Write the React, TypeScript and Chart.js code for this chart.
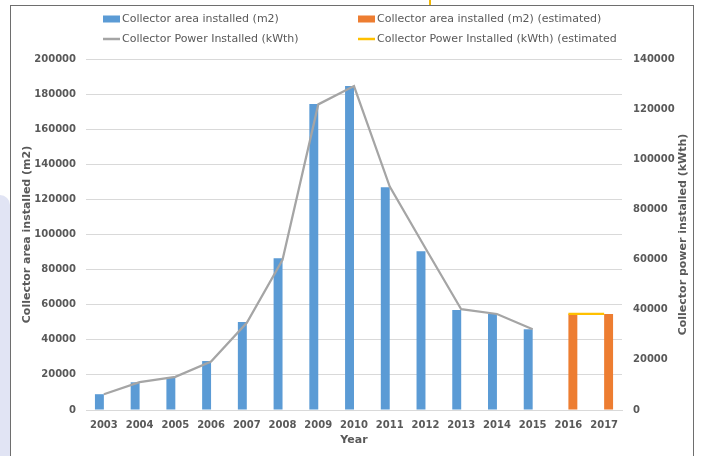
import React, { useEffect, useRef } from "react";
import { Chart, registerables } from "chart.js";

Chart.register(...registerables);

const years = ["2003", "2004", "2005", "2006", "2007", "2008", "2009", "2010", "2011", "2012", "2013", "2014", "2015", "2016", "2017"];
const areaInstalled = [9000, 15800, 18800, 27900, 50100, 86400, 174400, 184600, 126900, 90400, 57000, 54700, 46000, null, null];
const areaEstimated = [null, null, null, null, null, null, null, null, null, null, null, null, null, 54700, 54700];
const powerInstalled = [6300, 11100, 13200, 19300, 34800, 59900, 121900, 129200, 89100, 64500, 40200, 38300, 32200, null, null];
const powerEstimated = [null, null, null, null, null, null, null, null, null, null, null, null, null, 38300, 38300];

const leftMax = 200000;
const rightMax = 140000;
const tickStep = 20000;

const labelArea = "Collector area installed (m2)";
const labelAreaEst = "Collector area installed (m2) (estimated)";
const labelPower = "Collector Power Installed (kWth)";
const labelPowerEst = "Collector Power Installed (kWth) (estimated";
const rightTitle = "Collector power installed (kWth)";

const FONT = "'DejaVu Sans', sans-serif";
const TEXT = "#595959";

const legendPlugin = {
  id: "gridLegend",
  afterDraw(chart: any) {
    const ctx = chart.ctx;
    const cols = [103, 358];
    const rows = [19, 39];
    const items = [0, 1, 2, 3];
    ctx.save();
    ctx.font = `11px ${FONT}`;
    ctx.textBaseline = "middle";
    items.forEach((i) => {
      const ds = chart.data.datasets[i];
      const x = cols[i % 2];
      const y = rows[Math.floor(i / 2)];
      if (ds.type === "line") {
        ctx.strokeStyle = ds.borderColor;
        ctx.lineWidth = 2.5;
        ctx.beginPath();
        ctx.moveTo(x, y);
        ctx.lineTo(x + 17, y);
        ctx.stroke();
      } else {
        ctx.fillStyle = ds.backgroundColor;
        ctx.fillRect(x, y - 3.5, 17, 7);
      }
      ctx.fillStyle = TEXT;
      ctx.fillText(ds.label, x + 19, y + 0.5);
    });
    // right axis title, reading bottom-to-top
    const area = chart.chartArea;
    ctx.translate(683, (area.top + area.bottom) / 2);
    ctx.rotate(-Math.PI / 2);
    ctx.font = `bold 11px ${FONT}`;
    ctx.fillStyle = TEXT;
    ctx.textAlign = "center";
    ctx.textBaseline = "middle";
    ctx.fillText(rightTitle, 0, 0);
    ctx.restore();
  },
};

export default function App() {
  const ref = useRef<HTMLCanvasElement | null>(null);

  useEffect(() => {
    document.body.style.margin = "0";
    const canvas = ref.current;
    if (!canvas) return;
    const chart = new Chart(canvas, {
      type: "bar",
      data: {
        labels: years,
        datasets: [
          {
            type: "bar",
            label: labelArea,
            data: areaInstalled,
            backgroundColor: "#5B9BD5",
            yAxisID: "y",
            order: 2,
            categoryPercentage: 0.5,
            barPercentage: 1,
          },
          {
            type: "bar",
            label: labelAreaEst,
            data: areaEstimated,
            backgroundColor: "#ED7D31",
            yAxisID: "y",
            order: 2,
            categoryPercentage: 0.5,
            barPercentage: 1,
          },
          {
            type: "line",
            label: labelPower,
            data: powerInstalled,
            borderColor: "#A5A5A5",
            backgroundColor: "#A5A5A5",
            borderWidth: 2.25,
            pointRadius: 0,
            yAxisID: "y1",
            order: 1,
            spanGaps: false,
          },
          {
            type: "line",
            label: labelPowerEst,
            data: powerEstimated,
            borderColor: "#FFC000",
            backgroundColor: "#FFC000",
            borderWidth: 2.25,
            pointRadius: 0,
            yAxisID: "y1",
            order: 0,
          },
        ],
      } as any,
      options: {
        responsive: false,
        animation: false,
        layout: { padding: { left: 10, top: 59, right: 0, bottom: 0 } },
        plugins: {
          legend: { display: false },
          tooltip: { enabled: false },
        },
        scales: {
          x: {
            grid: { display: false, drawTicks: false },
            border: { display: true, color: "#D9D9D9" },
            ticks: { color: TEXT, font: { family: FONT, size: 10, weight: "bold" }, padding: 9, maxRotation: 0 },
            title: {
              display: true,
              text: "Year",
              color: TEXT,
              font: { family: FONT, size: 11, weight: "bold" },
              padding: { top: 0, bottom: 9 },
            },
            afterFit: (s: any) => {
              s.height = 46;
            },
          },
          y: {
            position: "left",
            min: 0,
            max: leftMax,
            grid: { color: "#D9D9D9", drawTicks: false },
            border: { display: false },
            ticks: {
              stepSize: tickStep,
              color: TEXT,
              font: { family: FONT, size: 10, weight: "bold" },
              padding: 10,
              callback: (v: any) => String(v),
            },
            title: {
              display: true,
              text: labelArea,
              color: TEXT,
              font: { family: FONT, size: 11, weight: "bold" },
              padding: { top: 11, bottom: 0 },
            },
            afterFit: (s: any) => {
              s.width = 76;
            },
          },
          y1: {
            position: "right",
            min: 0,
            max: rightMax,
            grid: { display: false, drawTicks: false },
            border: { display: false },
            ticks: {
              stepSize: tickStep,
              color: TEXT,
              font: { family: FONT, size: 10, weight: "bold" },
              padding: 11,
              callback: (v: any) => String(v),
            },
            title: { display: false },
            afterFit: (s: any) => {
              s.width = 80;
            },
          },
        },
      } as any,
      plugins: [legendPlugin],
    });
    return () => chart.destroy();
  }, []);

  return (
    <div style={{ position: "relative", width: 702, height: 456, overflow: "hidden", background: "#FFFFFF" }}>
      <div
        style={{
          position: "absolute",
          left: 0,
          top: 195,
          width: 10,
          height: 270,
          background: "#E1E4F4",
          borderTopRightRadius: 14,
        }}
      />
      <div
        style={{
          position: "absolute",
          left: 429,
          top: 0,
          width: 2,
          height: 6,
          background: "#F2B705",
        }}
      />
      <div
        style={{
          position: "absolute",
          left: 10,
          top: 5,
          width: 682,
          height: 470,
          border: "1px solid #6E6E6E",
          background: "#FFFFFF",
        }}
      />
      <canvas ref={ref} width={702} height={456} style={{ position: "absolute", left: 0, top: 0, display: "block" }} />
    </div>
  );
}
